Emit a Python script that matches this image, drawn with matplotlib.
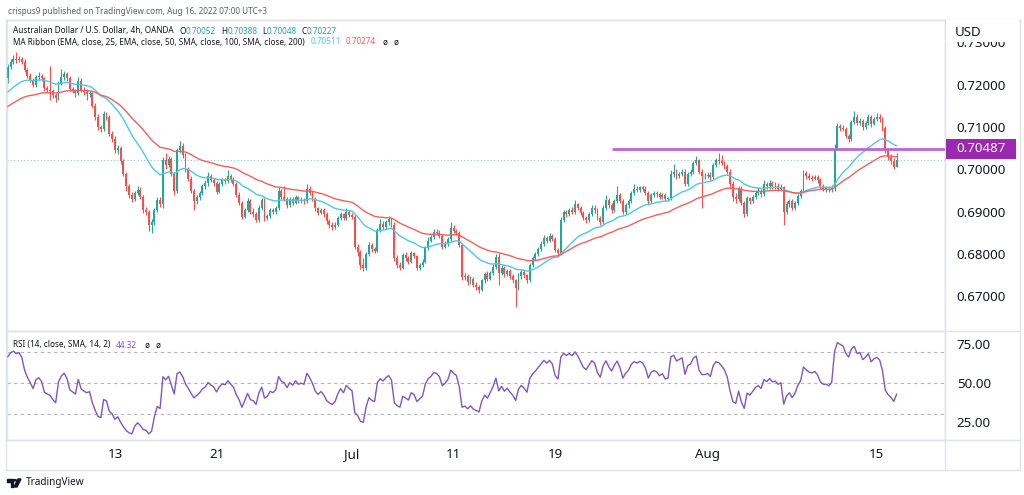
import numpy as np
import pandas as pd
import matplotlib
matplotlib.use("Agg")
import matplotlib.pyplot as plt
from matplotlib.patches import Rectangle, Polygon, Circle
from matplotlib.lines import Line2D

# ---------------- data (AUD/USD 4h, OANDA) ----------------
first_open = 0.7215
closes = [
    0.7242, 0.7255,                                   # Jun 2
    0.7262, 0.7258, 0.7262, 0.7255, 0.7235, 0.7222,   # Jun 3
    0.7212, 0.7200, 0.7218, 0.7222, 0.7215, 0.7192,   # Jun 6
    0.7188, 0.7185, 0.7175, 0.7168, 0.7205, 0.7218,   # Jun 7
    0.7225, 0.7215, 0.7190, 0.7185, 0.7180, 0.7210,   # Jun 8
    0.7188, 0.7182, 0.7178, 0.7180, 0.7150, 0.7125,   # Jun 9
    0.7100, 0.7095, 0.7130, 0.7125, 0.7085, 0.7072,   # Jun 10
    0.7045, 0.7050, 0.7020, 0.6990, 0.6960, 0.6940,   # Jun 13
    0.6930, 0.6945, 0.6952, 0.6935, 0.6905, 0.6900,   # Jun 14
    0.6870, 0.6875, 0.6905, 0.6928, 0.6918, 0.7022,   # Jun 15
    0.7010, 0.7025, 0.6990, 0.6950, 0.7045, 0.7055,   # Jun 16
    0.7035, 0.7000, 0.6978, 0.6950, 0.6925, 0.6935,   # Jun 17
    0.6945, 0.6960, 0.6968, 0.6985, 0.6975, 0.6968,   # Jun 20
    0.6948, 0.6965, 0.6975, 0.6972, 0.6985, 0.6975,   # Jun 21
    0.6965, 0.6940, 0.6920, 0.6888, 0.6905, 0.6925,   # Jun 22
    0.6900, 0.6895, 0.6880, 0.6910, 0.6928, 0.6885,   # Jun 23
    0.6890, 0.6905, 0.6900, 0.6908, 0.6950, 0.6935,   # Jun 24
    0.6930, 0.6915, 0.6930, 0.6922, 0.6935, 0.6925,   # Jun 27
    0.6928, 0.6925, 0.6955, 0.6945, 0.6930, 0.6908,   # Jun 28
    0.6898, 0.6905, 0.6895, 0.6878, 0.6870, 0.6865,   # Jun 29
    0.6870, 0.6885, 0.6895, 0.6885, 0.6900, 0.6893,   # Jun 30
    0.6888, 0.6818, 0.6805, 0.6775, 0.6768, 0.6800,   # Jul 1
    0.6822, 0.6812, 0.6808, 0.6858, 0.6872, 0.6865,   # Jul 4
    0.6875, 0.6882, 0.6870, 0.6790, 0.6775, 0.6768,   # Jul 5
    0.6798, 0.6790, 0.6782, 0.6802, 0.6795, 0.6768,   # Jul 6
    0.6775, 0.6782, 0.6815, 0.6832, 0.6840, 0.6852,   # Jul 7
    0.6850, 0.6842, 0.6818, 0.6825, 0.6835, 0.6862,   # Jul 8
    0.6855, 0.6850, 0.6822, 0.6745, 0.6748, 0.6735,   # Jul 11
    0.6742, 0.6728, 0.6722, 0.6715, 0.6738, 0.6752,   # Jul 12
    0.6742, 0.6755, 0.6770, 0.6793, 0.6755, 0.6768,   # Jul 13
    0.6752, 0.6760, 0.6748, 0.6738, 0.6720, 0.6748,   # Jul 14
    0.6758, 0.6750, 0.6738, 0.6775, 0.6790, 0.6800,   # Jul 15
    0.6812, 0.6825, 0.6838, 0.6832, 0.6842, 0.6835,   # Jul 18
    0.6810, 0.6802, 0.6880, 0.6900, 0.6895, 0.6905,   # Jul 19
    0.6900, 0.6918, 0.6910, 0.6898, 0.6885, 0.6880,   # Jul 20
    0.6895, 0.6910, 0.6905, 0.6885, 0.6875, 0.6910,   # Jul 21
    0.6928, 0.6915, 0.6905, 0.6925, 0.6940, 0.6925,   # Jul 22
    0.6900, 0.6915, 0.6925, 0.6945, 0.6955, 0.6952,   # Jul 25
    0.6958, 0.6955, 0.6945, 0.6925, 0.6940, 0.6945,   # Jul 26
    0.6942, 0.6935, 0.6940, 0.6930, 0.6932, 0.6990,   # Jul 27
    0.6995, 0.6985, 0.6990, 0.6995, 0.6965, 0.6990,   # Jul 28
    0.6995, 0.7015, 0.7022, 0.6995, 0.6985, 0.6985,   # Jul 29
    0.6988, 0.6982, 0.7010, 0.7022, 0.7020, 0.7015,   # Aug 1
    0.7008, 0.6995, 0.6965, 0.6935, 0.6930, 0.6955,   # Aug 2
    0.6920, 0.6895, 0.6932, 0.6925, 0.6935, 0.6945,   # Aug 3
    0.6950, 0.6942, 0.6965, 0.6960, 0.6968, 0.6960,   # Aug 4
    0.6962, 0.6955, 0.6958, 0.6900, 0.6918, 0.6925,   # Aug 5
    0.6910, 0.6920, 0.6938, 0.6950, 0.6992, 0.6985,   # Aug 8
    0.6980, 0.6978, 0.6982, 0.6975, 0.6960, 0.6955,   # Aug 9
    0.6955, 0.6952, 0.6958, 0.7050, 0.7102, 0.7098,   # Aug 10
    0.7095, 0.7080, 0.7072, 0.7112, 0.7125, 0.7110,   # Aug 11
    0.7115, 0.7100, 0.7110, 0.7125, 0.7108, 0.7120,   # Aug 12
    0.7125, 0.7120, 0.7098, 0.7045, 0.7030, 0.7020,   # Aug 15
    0.70052, 0.70227,                                 # Aug 16
]
highs = [
    0.7248, 0.7262,
    0.7270, 0.7277, 0.7268, 0.7266, 0.7260, 0.7240,
    0.7228, 0.7216, 0.7224, 0.7230, 0.7226, 0.7218,
    0.7198, 0.7245, 0.7190, 0.7180, 0.7210, 0.7238,
    0.7232, 0.7230, 0.7220, 0.7196, 0.7190, 0.7218,
    0.7215, 0.7195, 0.7190, 0.7186, 0.7184, 0.7156,
    0.7130, 0.7106, 0.7138, 0.7136, 0.7128, 0.7090,
    0.7078, 0.7058, 0.7056, 0.7025, 0.6995, 0.6966,
    0.6948, 0.6950, 0.6960, 0.6958, 0.6940, 0.6912,
    0.6905, 0.6882, 0.6910, 0.6935, 0.6934, 0.7030,
    0.7040, 0.7032, 0.7030, 0.6995, 0.7050, 0.7068,
    0.7062, 0.7040, 0.7006, 0.6984, 0.6955, 0.6940,
    0.6950, 0.6965, 0.6975, 0.6995, 0.6990, 0.6980,
    0.6972, 0.6970, 0.6980, 0.6980, 0.6998, 0.6990,
    0.6982, 0.6970, 0.6946, 0.6925, 0.6910, 0.6932,
    0.6930, 0.6908, 0.6900, 0.6915, 0.6932, 0.6932,
    0.6895, 0.6910, 0.6910, 0.6914, 0.6958, 0.6955,
    0.6960, 0.6936, 0.6936, 0.6934, 0.6940, 0.6938,
    0.6934, 0.6932, 0.6965, 0.6960, 0.6950, 0.6934,
    0.6912, 0.6910, 0.6910, 0.6900, 0.6882, 0.6875,
    0.6875, 0.6890, 0.6900, 0.6898, 0.6908, 0.6905,
    0.6898, 0.6892, 0.6825, 0.6810, 0.6790, 0.6805,
    0.6828, 0.6826, 0.6818, 0.6862, 0.6882, 0.6878,
    0.6880, 0.6890, 0.6886, 0.6875, 0.6798, 0.6782,
    0.6802, 0.6805, 0.6796, 0.6808, 0.6806, 0.6798,
    0.6780, 0.6788, 0.6820, 0.6840, 0.6846, 0.6860,
    0.6860, 0.6856, 0.6848, 0.6830, 0.6840, 0.6875,
    0.6868, 0.6860, 0.6855, 0.6826, 0.6755, 0.6752,
    0.6748, 0.6746, 0.6734, 0.6728, 0.6742, 0.6758,
    0.6760, 0.6760, 0.6776, 0.6800, 0.6802, 0.6775,
    0.6772, 0.6766, 0.6765, 0.6752, 0.6742, 0.6755,
    0.6765, 0.6762, 0.6754, 0.6780, 0.6796, 0.6806,
    0.6818, 0.6832, 0.6845, 0.6842, 0.6850, 0.6848,
    0.6840, 0.6815, 0.6888, 0.6905, 0.6904, 0.6910,
    0.6912, 0.6928, 0.6922, 0.6914, 0.6902, 0.6890,
    0.6900, 0.6915, 0.6916, 0.6908, 0.6890, 0.6915,
    0.6940, 0.6932, 0.6920, 0.6930, 0.6962, 0.6945,
    0.6930, 0.6920, 0.6930, 0.6950, 0.6965, 0.6960,
    0.6962, 0.6962, 0.6960, 0.6950, 0.6945, 0.6950,
    0.6950, 0.6946, 0.6944, 0.6945, 0.6936, 0.6998,
    0.7012, 0.7000, 0.6995, 0.7000, 0.7000, 0.6995,
    0.7000, 0.7020, 0.7033, 0.7025, 0.7000, 0.6992,
    0.6995, 0.6994, 0.7015, 0.7028, 0.7040, 0.7035,
    0.7020, 0.7012, 0.7000, 0.6972, 0.6945, 0.6960,
    0.6960, 0.6925, 0.6938, 0.6936, 0.6940, 0.6950,
    0.6958, 0.6955, 0.6975, 0.6970, 0.6974, 0.6972,
    0.6970, 0.6968, 0.6965, 0.6962, 0.6925, 0.6930,
    0.6930, 0.6925, 0.6942, 0.6955, 0.6998, 0.6996,
    0.6992, 0.6986, 0.6988, 0.6986, 0.6980, 0.6965,
    0.6962, 0.6960, 0.6964, 0.7060, 0.7110, 0.7108,
    0.7105, 0.7100, 0.7085, 0.7118, 0.7138, 0.7130,
    0.7122, 0.7120, 0.7115, 0.7130, 0.7128, 0.7125,
    0.7133, 0.7130, 0.7125, 0.7102, 0.7050, 0.7036,
    0.7026, 0.70388,
]
lows = [
    0.7205, 0.7238,
    0.7250, 0.7252, 0.7254, 0.7250, 0.7230, 0.7215,
    0.7206, 0.7194, 0.7196, 0.7212, 0.7208, 0.7186,
    0.7182, 0.7163, 0.7168, 0.7160, 0.7165, 0.7200,
    0.7212, 0.7210, 0.7186, 0.7180, 0.7172, 0.7176,
    0.7184, 0.7176, 0.7165, 0.7172, 0.7145, 0.7118,
    0.7094, 0.7088, 0.7090, 0.7118, 0.7080, 0.7066,
    0.7040, 0.7036, 0.7012, 0.6984, 0.6950, 0.6932,
    0.6924, 0.6926, 0.6940, 0.6930, 0.6898, 0.6893,
    0.6855, 0.6850, 0.6870, 0.6900, 0.6912, 0.6910,
    0.7002, 0.7005, 0.6984, 0.6940, 0.6945, 0.7038,
    0.7028, 0.6995, 0.6972, 0.6944, 0.6905, 0.6918,
    0.6928, 0.6940, 0.6955, 0.6962, 0.6970, 0.6960,
    0.6942, 0.6944, 0.6960, 0.6966, 0.6968, 0.6970,
    0.6960, 0.6935, 0.6915, 0.6882, 0.6885, 0.6900,
    0.6895, 0.6888, 0.6875, 0.6876, 0.6905, 0.6878,
    0.6880, 0.6886, 0.6895, 0.6896, 0.6904, 0.6930,
    0.6925, 0.6910, 0.6912, 0.6916, 0.6918, 0.6920,
    0.6920, 0.6918, 0.6922, 0.6940, 0.6925, 0.6902,
    0.6892, 0.6894, 0.6888, 0.6872, 0.6862, 0.6858,
    0.6860, 0.6866, 0.6880, 0.6880, 0.6880, 0.6888,
    0.6882, 0.6812, 0.6795, 0.6765, 0.6760, 0.6762,
    0.6795, 0.6806, 0.6802, 0.6804, 0.6852, 0.6860,
    0.6860, 0.6870, 0.6865, 0.6785, 0.6768, 0.6762,
    0.6764, 0.6785, 0.6776, 0.6778, 0.6790, 0.6762,
    0.6762, 0.6770, 0.6778, 0.6810, 0.6828, 0.6835,
    0.6845, 0.6838, 0.6812, 0.6814, 0.6820, 0.6830,
    0.6850, 0.6845, 0.6818, 0.6740, 0.6738, 0.6728,
    0.6730, 0.6722, 0.6716, 0.6708, 0.6712, 0.6732,
    0.6736, 0.6738, 0.6750, 0.6765, 0.6728, 0.6750,
    0.6746, 0.6748, 0.6742, 0.6732, 0.6675, 0.6716,
    0.6742, 0.6744, 0.6732, 0.6734, 0.6770, 0.6786,
    0.6795, 0.6808, 0.6820, 0.6826, 0.6828, 0.6830,
    0.6805, 0.6796, 0.6798, 0.6875, 0.6888, 0.6890,
    0.6895, 0.6895, 0.6904, 0.6892, 0.6880, 0.6874,
    0.6876, 0.6890, 0.6898, 0.6880, 0.6868, 0.6872,
    0.6905, 0.6910, 0.6898, 0.6900, 0.6920, 0.6920,
    0.6895, 0.6896, 0.6910, 0.6920, 0.6940, 0.6946,
    0.6946, 0.6950, 0.6940, 0.6918, 0.6920, 0.6935,
    0.6936, 0.6930, 0.6930, 0.6925, 0.6925, 0.6928,
    0.6982, 0.6978, 0.6980, 0.6985, 0.6960, 0.6960,
    0.6985, 0.6990, 0.7010, 0.6990, 0.6908, 0.6978,
    0.6980, 0.6976, 0.6978, 0.7005, 0.7012, 0.7010,
    0.7002, 0.6990, 0.6955, 0.6926, 0.6922, 0.6925,
    0.6915, 0.6888, 0.6890, 0.6918, 0.6920, 0.6930,
    0.6940, 0.6936, 0.6938, 0.6954, 0.6955, 0.6955,
    0.6954, 0.6950, 0.6950, 0.6870, 0.6895, 0.6912,
    0.6905, 0.6905, 0.6915, 0.6932, 0.6946, 0.6978,
    0.6975, 0.6972, 0.6974, 0.6968, 0.6955, 0.6950,
    0.6948, 0.6946, 0.6946, 0.6950, 0.7045, 0.7090,
    0.7090, 0.7074, 0.7066, 0.7068, 0.7108, 0.7104,
    0.7105, 0.7094, 0.7096, 0.7106, 0.7100, 0.7104,
    0.7115, 0.7112, 0.7092, 0.7040, 0.7022, 0.7012,
    0.7000, 0.70048,
]
opens = [first_open] + closes[:-1]

# indicator seeds (values of the indicators at the first visible candle)
ema25_start = 0.7178
ema50_start = 0.7145
rsi_avg_gain_start = 0.00070
rsi_avg_loss_start = 0.00045

time_tick_candles = [38, 74, 122, 158, 194, 248, 308]
time_tick_labels = ["13", "21", "Jul", "11", "19", "Aug", "15"]
price_ticks = [0.67, 0.68, 0.69, 0.70, 0.71, 0.72, 0.73]
rsi_tick_values = [25, 50, 75]
rsi_band_values = [70, 50, 30]
resistance_level = 0.70487
resistance_from_candle = 214

legend_ohlc = ["0.70052", "0.70388", "0.70048", "0.70227"]
legend_ma = ["0.70511", "0.70274"]
legend_rsi = "44.32"

# ---------------- indicators ----------------
c = pd.Series(closes)
ema25 = pd.concat([pd.Series([ema25_start]), c]).ewm(span=25, adjust=False).mean().iloc[1:].values
ema50 = pd.concat([pd.Series([ema50_start]), c]).ewm(span=50, adjust=False).mean().iloc[1:].values
diffs = np.diff(np.array([first_open] + closes))
ag, al = rsi_avg_gain_start, rsi_avg_loss_start
rsi = []
for d in diffs:
    ag = (ag * 13 + max(d, 0)) / 14
    al = (al * 13 + max(-d, 0)) / 14
    rsi.append(100 - 100 / (1 + ag / al))

# ---------------- figure ----------------
W, H = 1024, 495
fig = plt.figure(figsize=(W / 100, H / 100), dpi=100)
fig.patch.set_facecolor("white")
FONT = "Noto Sans"
GRID = "#e0e3eb"
TXT = "#131722"
UP, DN = "#26a69a", "#ef5350"
CYAN, RED = "#4cc9e0", "#f0625f"


def px_axes(x0, y0, x1, y1):
    return fig.add_axes([x0 / W, 1 - y1 / H, (x1 - x0) / W, (y1 - y0) / H])


def fx(x):
    return x / W


def fy(y):
    return 1 - y / H


ax = px_axes(7, 20, 945, 331)
axr = px_axes(7, 331, 945, 440)
xmin, xmax = -0.25, 332.15
n = len(closes)
idx = np.arange(n)

for a in (ax, axr):
    a.set_xlim(xmin, xmax)
    for s in a.spines.values():
        s.set_color(GRID)
        s.set_linewidth(1)
    a.set_facecolor("white")

ax.set_ylim(0.66185, 0.73531)
axr.set_ylim(13.2, 83.5)

# candles
o = np.array(opens); cl = np.array(closes); hi = np.array(highs); lo = np.array(lows)
cols = np.where(cl >= o, UP, DN)
ax.vlines(idx, lo, hi, colors=cols, linewidth=0.8, zorder=2)
body_h = np.maximum(np.abs(cl - o), 0.00004)
ax.bar(idx, body_h, bottom=np.minimum(o, cl), width=0.68, color=cols, linewidth=0, zorder=3)

# moving averages
ax.plot(idx, ema25, color=CYAN, lw=1.0, zorder=4)
ax.plot(idx, ema50, color=RED, lw=1.0, zorder=4)

# current price dotted line and resistance
ax.axhline(closes[-1], color="#86cfc7", lw=0.8, ls=(0, (1, 2)), zorder=1)
ax.hlines(resistance_level, resistance_from_candle, xmax, color="#b967d4", lw=2.0, zorder=5)

# price axis
ax.yaxis.tick_right()
ax.set_yticks(price_ticks)
ax.set_yticklabels([f"{p:.5f}" for p in price_ticks], fontsize=9.6, color=TXT, family=FONT)
ax.tick_params(axis="y", length=0, pad=8.5)
ax.set_xticks([])

# RSI pane
axr.plot(idx, rsi, color="#7e57c2", lw=1.0, zorder=3)
for b in rsi_band_values:
    axr.axhline(b, color="#b2b5be", lw=0.8, ls=(0, (3, 3)), zorder=1)
axr.yaxis.tick_right()
axr.set_yticks(rsi_tick_values)
axr.set_yticklabels([f"{v:.2f}" for v in rsi_tick_values], fontsize=9.6, color=TXT, family=FONT)
axr.tick_params(axis="y", length=0, pad=8.5)
axr.set_xticks(time_tick_candles)
axr.set_xticklabels(time_tick_labels, fontsize=9.6, color=TXT, family=FONT)
axr.tick_params(axis="x", length=0, pad=6)
for lab in axr.get_xticklabels():
    if lab.get_text() in ("Jul", "Aug"):
        lab.set_fontweight("bold")


# frame lines
def fline(x0, y0, x1, y1):
    fig.add_artist(Line2D([fx(x0), fx(x1)], [fy(y0), fy(y1)], color=GRID, lw=1, zorder=6))


fline(6, 20, 1020, 20)
fline(6, 470, 1020, 470)
fline(6, 20, 6, 470)
fline(1020, 20, 1020, 470)
fline(945, 20, 945, 470)
fline(6, 331, 1020, 331)
fline(6, 440, 1020, 440)

# USD header covering the clipped top label
fig.add_artist(Rectangle((fx(946), fy(41.5)), fx(73), 21 / H, facecolor="white", edgecolor="none", zorder=7))
fig.text(fx(955), fy(32), "USD", fontsize=9.6, color=TXT, family=FONT, va="center", ha="left", zorder=8)

# resistance label box
fig.canvas.draw()
renderer = fig.canvas.get_renderer()
ydisp = ax.transData.transform((0, resistance_level))[1]
yb = ydisp / H
fig.add_artist(Rectangle((fx(946), yb - 10 / H), fx(70), 20 / H, facecolor="#9c27b0", edgecolor="none", zorder=7))
fig.text(fx(981), yb, f"{resistance_level:.5f}", fontsize=9.6, color="white", family=FONT,
         ha="center", va="center", zorder=8)

# header texts, laid out piece by piece
GRAY = "#5d606b"
FS = 5.9


def seq_text(x, y, pieces):
    for txt, col, gap in pieces:
        t = fig.text(fx(x), fy(y), txt, fontsize=FS, color=col, family=FONT, va="center")
        w = t.get_window_extent(renderer).width
        x += w + gap


fig.text(fx(8), fy(11), "crispus9 published on TradingView.com, Aug 16, 2022 07:00 UTC+3",
         fontsize=FS, color=GRAY, family=FONT, va="center")
seq_text(13, 31, [("Australian Dollar / U.S. Dollar, 4h, OANDA", TXT, 6),
                  ("O", TXT, 0), (legend_ohlc[0], UP, 5),
                  ("H", TXT, 0), (legend_ohlc[1], UP, 5),
                  ("L", TXT, 0), (legend_ohlc[2], UP, 5),
                  ("C", TXT, 0), (legend_ohlc[3], UP, 5)])
seq_text(13, 42, [("MA Ribbon (EMA, close, 25, EMA, close, 50, SMA, close, 100, SMA, close, 200)", TXT, 6),
                  (legend_ma[0], CYAN, 5), (legend_ma[1], RED, 6), ("ø", TXT, 6), ("ø", TXT, 0)])
seq_text(13, 345, [("RSI (14, close, SMA, 14, 2)", TXT, 5), (legend_rsi, "#7e57c2", 8),
                   ("ø", TXT, 6), ("ø", TXT, 0)])

# TradingView logo + text
fig.add_artist(Polygon([(fx(7), fy(479)), (fx(13), fy(479)), (fx(13), fy(487)), (fx(10.5), fy(487)),
                        (fx(10.5), fy(481.5)), (fx(7), fy(481.5))], closed=True, color=TXT, zorder=8))
fig.add_artist(Circle((fx(15), fy(480.3)), 1.3 / W, color=TXT, zorder=8))
fig.add_artist(Polygon([(fx(14), fy(487)), (fx(18), fy(479)), (fx(21), fy(479)), (fx(17), fy(487))],
                       closed=True, color=TXT, zorder=8))
fig.text(fx(26), fy(483), "TradingView", fontsize=7.2, color=TXT, family=FONT, va="center")

fig.savefig("out.png", dpi=100, facecolor="white")
